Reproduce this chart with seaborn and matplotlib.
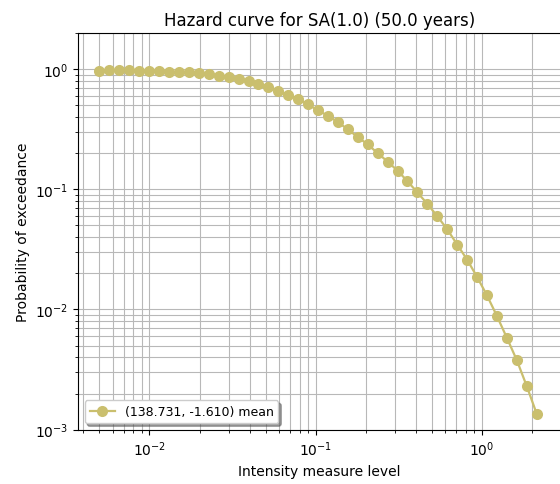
import numpy as np
import pandas as pd
import seaborn as sns
import matplotlib
matplotlib.use("Agg")
import matplotlib.pyplot as plt

# intensity measure levels (45 levels, 0.005 .. 2.13 g)
imls = [0.005, 0.005738, 0.006585, 0.007556, 0.008671, 0.009949, 0.01142,
        0.01310, 0.01503, 0.01725, 0.01980, 0.02272, 0.02607, 0.02992,
        0.03433, 0.03940, 0.04521, 0.05187, 0.05953, 0.06831, 0.07839,
        0.08996, 0.1032, 0.1184, 0.1359, 0.1560, 0.1790, 0.2054, 0.2357,
        0.2704, 0.3103, 0.3561, 0.4087, 0.4690, 0.5382, 0.6176, 0.7087,
        0.8132, 0.9329, 1.070, 1.228, 1.409, 1.617, 1.856, 2.130]

# probability of exceedance in 50 years
poes = [0.970, 0.975, 0.975, 0.975, 0.957, 0.957, 0.957, 0.951,
        0.939, 0.939, 0.921, 0.909, 0.881, 0.858, 0.826, 0.790,
        0.746, 0.714, 0.661, 0.607, 0.563, 0.508, 0.453, 0.409,
        0.362, 0.315, 0.272, 0.236, 0.200, 0.170, 0.143, 0.1168,
        0.0941, 0.0757, 0.0597, 0.0465, 0.0347, 0.0260, 0.0187, 0.01313,
        0.00885, 0.00583, 0.00380, 0.00231, 0.00136]

site_label = "(138.731, -1.610) mean"

df = pd.DataFrame({"iml": imls, "poe": poes})

fig = plt.figure(figsize=(5.6, 4.85), dpi=100)
ax = fig.add_axes([0.1398, 0.112, 0.8622, 0.818])

sns.lineplot(data=df, x="iml", y="poe", ax=ax, marker="o", markersize=8,
             markeredgewidth=0, color="#cabf6e", linewidth=1.6,
             label=site_label, sort=False)

ax.set_xscale("log")
ax.set_yscale("log")
ax.set_xlim(0.00373, 2.99)
ax.set_ylim(1e-3, 2.0)
ax.grid(True, which="both", color="#b8b8b8", linewidth=0.8)
ax.set_axisbelow(True)

ax.set_title("Hazard curve for SA(1.0) (50.0 years)")
ax.set_xlabel("Intensity measure level")
ax.set_ylabel("Probability of exceedance")
ax.legend(loc="lower left", shadow=True, fancybox=True, fontsize=9)

fig.savefig("out.png", dpi=100)
